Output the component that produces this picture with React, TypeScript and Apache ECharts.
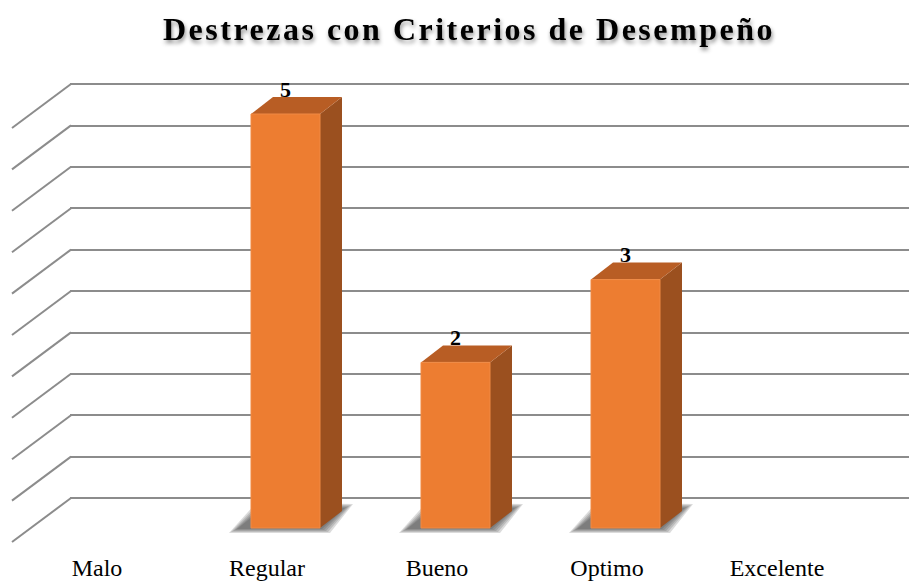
import React, { useEffect, useRef } from "react";
import * as echarts from "echarts";

const chartTitle = "Destrezas con Criterios de Desempeño";
const categories = ["Malo", "Regular", "Bueno", "Optimo", "Excelente"];
const values = [0, 5, 2, 3, 0];
const yTicks = [0, 0.5, 1, 1.5, 2, 2.5, 3, 3.5, 4, 4.5, 5];

const WALL_DX = -58;
const WALL_DY = 44;
const FRONT_DX = -39.5;
const FRONT_DY = 30;
const DEPTH_DX = 22;
const DEPTH_DY = -17;
const HALF_W = 34.5;
const SERIF = "'Liberation Serif', 'Times New Roman', Times, serif";
const GRID_COLOR = "#8c8c8c";
const SHADOW_LAYERS = [8, 6, 4, 2, 0];

export default function App() {
  const ref = useRef<HTMLDivElement>(null);
  useEffect(() => {
    const chart = echarts.init(ref.current!, null, { renderer: "svg" });
    const option: any = {
      animation: false,
      backgroundColor: "#ffffff",
      title: {
        text: chartTitle,
        left: 158,
        top: 8,
        textStyle: {
          fontFamily: SERIF,
          fontWeight: "bold",
          fontSize: 32,
          color: "#000",
          textShadowColor: "rgba(0,0,0,0.45)",
          textShadowBlur: 4,
          textShadowOffsetX: 1,
          textShadowOffsetY: 3,
        },
      },
      grid: [
        { left: 70, top: 84, width: 850, height: 414, outerBoundsMode: "none", containLabel: false },
        { left: 70 + WALL_DX, top: 84 + WALL_DY, width: 850, height: 414, outerBoundsMode: "none", containLabel: false },
      ],
      xAxis: [
        { type: "category", gridIndex: 0, data: categories, show: false },
        {
          type: "category",
          gridIndex: 1,
          data: categories,
          axisLine: { show: false },
          axisTick: { show: false },
          axisLabel: { fontFamily: SERIF, fontSize: 24, color: "#000", margin: 14 },
        },
      ],
      yAxis: [
        {
          type: "value",
          gridIndex: 0,
          min: 0,
          max: 5,
          interval: 0.5,
          axisLine: { show: false },
          axisTick: { show: false },
          axisLabel: { show: false },
          splitLine: { show: true, lineStyle: { color: GRID_COLOR, width: 2 } },
        },
        { type: "value", gridIndex: 1, min: 0, max: 5, show: false, splitLine: { show: false } },
      ],
      series: [
        {
          type: "custom",
          xAxisIndex: 0,
          yAxisIndex: 0,
          clip: false,
          silent: true,
          data: yTicks.map((v) => [0, v]),
          renderItem: (params: any, api: any) => {
            const y = api.coord([0, api.value(1)])[1];
            const x0 = params.coordSys.x;
            return {
              type: "line",
              shape: { x1: x0 + 1, y1: y, x2: x0 + WALL_DX, y2: y + WALL_DY },
              style: { stroke: GRID_COLOR, lineWidth: 2 },
            };
          },
        },
        {
          type: "custom",
          xAxisIndex: 0,
          yAxisIndex: 0,
          clip: false,
          silent: true,
          data: values.map((v, i) => [i, v]),
          renderItem: (params: any, api: any) => {
            const i = api.value(0);
            const v = api.value(1);
            if (!v) return null;
            const base = api.coord([i, 0]);
            const top = api.coord([i, v]);
            const cx = base[0] + FRONT_DX;
            const yb = base[1] + FRONT_DY;
            const yt = top[1] + FRONT_DY;
            const xl = cx - HALF_W;
            const xr = cx + HALF_W;
            const shadows = SHADOW_LAYERS.map((e) => ({
              type: "polygon",
              shape: {
                points: [
                  [xl - 14 - e, yb + 1 + e * 0.5],
                  [xr + 2 + e, yb + 1 + e * 0.5],
                  [xr + DEPTH_DX + 3 + e, yb + DEPTH_DY - 3 - e * 0.5],
                  [xl + DEPTH_DX - 8 - e, yb + DEPTH_DY - 5 - e * 0.5],
                ],
              },
              style: { fill: "rgba(40,40,40,0.17)" },
            }));
            return {
              type: "group",
              children: [
                ...shadows,
                {
                  type: "polygon",
                  shape: {
                    points: [
                      [xr, yt],
                      [xr + DEPTH_DX, yt + DEPTH_DY],
                      [xr + DEPTH_DX, yb + DEPTH_DY],
                      [xr, yb],
                    ],
                  },
                  style: { fill: "#9b501f" },
                },
                {
                  type: "polygon",
                  shape: {
                    points: [
                      [xl, yt],
                      [xl + DEPTH_DX, yt + DEPTH_DY],
                      [xr + DEPTH_DX, yt + DEPTH_DY],
                      [xr, yt],
                    ],
                  },
                  style: { fill: "#b85d24" },
                },
                {
                  type: "rect",
                  shape: { x: xl, y: yt, width: xr - xl, height: yb - yt },
                  style: { fill: "#ed7d31", stroke: "#f08a45", lineWidth: 1 },
                },
                {
                  type: "text",
                  x: cx,
                  y: yt + DEPTH_DY - 8,
                  style: {
                    text: String(v),
                    align: "center",
                    verticalAlign: "middle",
                    fontFamily: SERIF,
                    fontWeight: "bold",
                    fontSize: 22,
                    fill: "#000",
                  },
                },
              ],
            };
          },
        },
      ],
    };
    chart.setOption(option);
    const texts = ref.current!.querySelectorAll("text");
    texts.forEach((t) => {
      if (t.textContent === chartTitle) {
        (t as SVGTextElement).style.letterSpacing = "2.5px";
      }
    });
    return () => chart.dispose();
  }, []);
  return (
    <div
      ref={ref}
      style={{ position: "absolute", left: 0, top: 0, width: 909, height: 583, background: "#fff" }}
    />
  );
}
